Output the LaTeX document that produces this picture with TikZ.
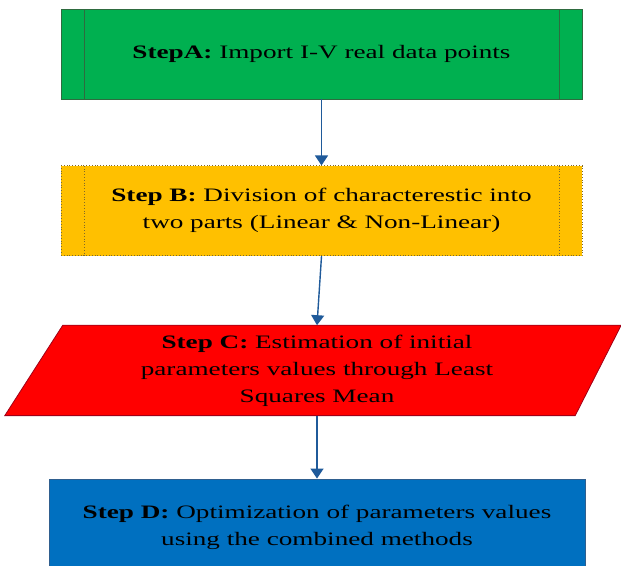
\documentclass[tikz,border=0pt]{standalone}
\usepackage{fontspec}
\setmainfont{Liberation Serif}[FakeStretch=1.43]
\usetikzlibrary{positioning, arrows.meta, backgrounds}

\definecolor{stepGreen}{HTML}{00B050}
\definecolor{stepGreenLine}{HTML}{2E6B3F}
\definecolor{stepGold}{HTML}{FFC000}
\definecolor{stepGoldLine}{HTML}{7F6A2A}
\definecolor{stepRed}{HTML}{FF0000}
\definecolor{stepRedLine}{HTML}{A00018}
\definecolor{stepBlue}{HTML}{0070C0}
\definecolor{stepBlueLine}{HTML}{2F5F8F}
\definecolor{flowArrow}{HTML}{1F5A9A}

\tikzstyle{StepText} = [font=\fontsize{19}{27}\selectfont, text=black, align=center, inner sep=2pt]
\tikzstyle{ProcessBox} = [StepText, draw, line width=0.8pt, minimum width=521pt, minimum height=90pt,
    path picture={\draw ([xshift=23pt]path picture bounding box.north west) -- ([xshift=23pt]path picture bounding box.south west);
                  \draw ([xshift=-23pt]path picture bounding box.north east) -- ([xshift=-23pt]path picture bounding box.south east);}]
\tikzstyle{DataText} = [StepText, minimum width=530pt, minimum height=90pt]
\tikzstyle{DataShape} = [fill=stepRed, draw=stepRedLine, line width=0.8pt]
\tikzstyle{PlainBox} = [StepText, draw, line width=0.8pt, minimum width=536pt, minimum height=97pt]
\tikzstyle{flow} = [draw=flowArrow, line width=1.4pt, -{Triangle[length=10pt, width=13pt]}]

\begin{document}
\begin{tikzpicture}
    \useasboundingbox (0,0) rectangle (621pt,-565pt);

    \node[ProcessBox, fill=stepGreen, draw=stepGreenLine] (stepA) at (321.5pt,-54pt)
        {\textbf{StepA:} Import I-V real data points};
    \node[ProcessBox, fill=stepGold, draw=stepGoldLine, dotted] (stepB) [below = 66pt of stepA]
        {\textbf{Step B:} Division of characterestic into\\two parts (Linear \& Non-Linear)};
    \node[DataText] (stepC) [below = 69pt of stepB, xshift=-4.5pt]
        {\textbf{Step C:} Estimation of initial\\parameters values through Least\\Squares Mean};
    \node[PlainBox, fill=stepBlue, draw=stepBlueLine, yshift=-2pt] (stepD) [below = 61pt of stepC]
        {\textbf{Step D:} Optimization of parameters values\\using the combined methods};

    % slanted data box behind step C
    \begin{scope}[on background layer]
        \draw[DataShape] ([xshift=11pt]stepC.north west) -- ([xshift=39pt]stepC.north east)
            -- ([xshift=-7pt]stepC.south east) -- ([xshift=-47pt]stepC.south west) -- cycle;
    \end{scope}

    \draw[flow] (stepA) -- (stepB);
    \draw[flow] (stepB.south) -- (stepC.north);
    \draw[flow] (stepC.south) -- (stepD.north);
  \end{tikzpicture}
\end{document}
